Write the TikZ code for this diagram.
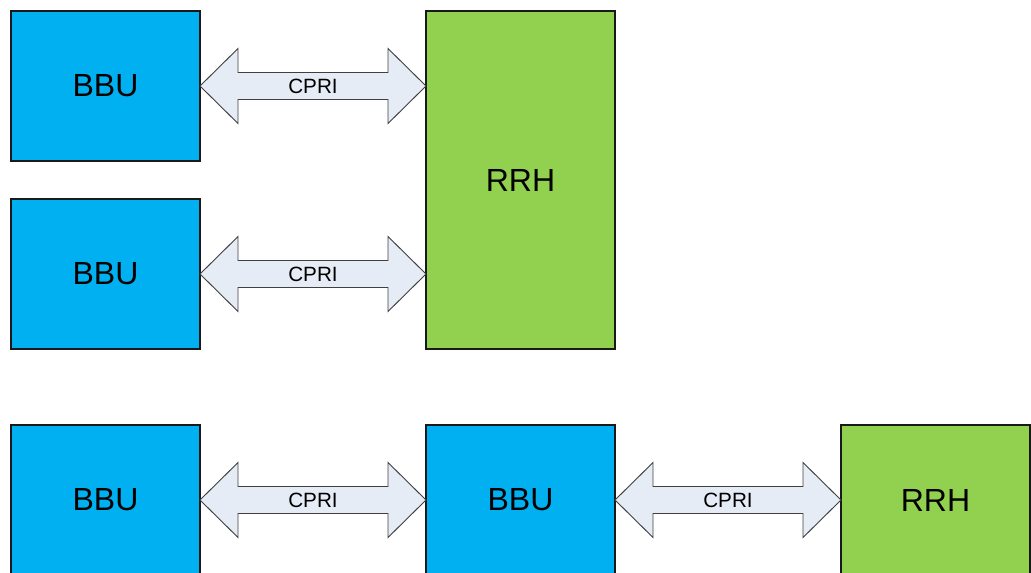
\documentclass[tikz,border=0pt]{standalone}
\usepackage{fontspec}
\setmainfont{Liberation Sans}
\usetikzlibrary{calc}
\definecolor{bbuBlue}{RGB}{0,176,240}
\definecolor{rrhGreen}{RGB}{146,208,80}
\definecolor{cpriFill}{RGB}{230,236,246}

% fat double arrow between two tips, label in the middle
\newcommand{\cpriarrow}[3]{%
  \draw[link] (#1) -- ++(38,-37.5) -- ++(0,24) -- ($(#2)+(-38,-13.5)$) -- ++(0,-24)
    -- (#2) -- ++(-38,37.5) -- ++(0,-24) -- ($(#1)+(38,13.5)$) -- ++(0,24) -- cycle;
  \node[lbl] (#3) at ($(#1)!0.5!(#2)$) {CPRI};
}

\begin{document}
\begin{tikzpicture}[x=0.75pt, y=-0.75pt,
        unit/.style={rectangle, draw=black!90, line width=0.9pt, inner sep=0pt, outer sep=0pt,
            minimum width=141.75pt, minimum height=112.5pt, font=\fontsize{24}{28}\selectfont},
        bbu/.style={unit, fill=bbuBlue},
        rrh/.style={unit, fill=rrhGreen},
        link/.style={draw=black!75, line width=0.7pt, fill=cpriFill},
        lbl/.style={font=\fontsize{15.5}{18}\selectfont}]

    \useasboundingbox (0,0) rectangle (1031,572);
    \clip (0,0) rectangle (1031,572);

    % upper case: two BBUs on one RRH
    \node[bbu] (bbuA) at (105.5,86) {BBU};
    \node[bbu] (bbuB) at (105.5,274) {BBU};
    \node[rrh, minimum height=253.5pt] (rrhA) at (520.5,180) {RRH};

    \cpriarrow{bbuA.east}{bbuA.east -| rrhA.west}{cpriA}
    \cpriarrow{bbuB.east}{bbuB.east -| rrhA.west}{cpriB}

    % lower case: chained BBUs
    \node[bbu] (bbuC) at (105.5,500) {BBU};
    \node[bbu] (bbuD) at (520.5,500) {BBU};
    \node[rrh] (rrhB) at (935.5,500) {RRH};

    \cpriarrow{bbuC.east}{bbuD.west}{cpriC}
    \cpriarrow{bbuD.east}{rrhB.west}{cpriD}
\end{tikzpicture}
\end{document}
